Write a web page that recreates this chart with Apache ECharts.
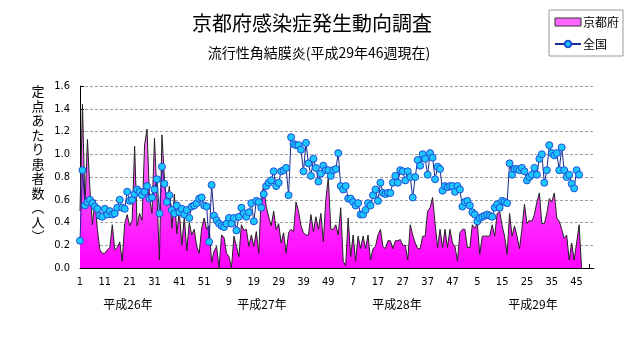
<!DOCTYPE html>
<html><head><meta charset="utf-8">
<script src="https://cdn.jsdelivr.net/npm/echarts@6/dist/echarts.min.js"></script>
<style>html,body{margin:0;padding:0;background:#fff}#c{width:631px;height:347px}</style>
</head><body><div id="c"></div>
<script>
// ---- data ----
const yearLabels = ['平成26年', '平成27年', '平成28年', '平成29年'];
const weeksPerYear = 52;
const seriesNames = ['京都府', '全国'];
const yTickValues = [0, 0.2, 0.4, 0.6, 0.8, 1.0, 1.2, 1.4, 1.6];
// 京都府 (last 0 = blank week after 46週, drawn as zero by the original chart)
const kyoto = [
 0.50,1.44,0.54,1.13,0.69,0.38,0.60,0.34,0.16,0.13,
 0.13,0.16,0.18,0.38,0.16,0.18,0.23,0.06,0.39,0.47,
 0.37,0.42,1.07,0.37,0.48,0.42,1.08,1.22,0.61,0.48,
 1.14,0.63,0.07,1.17,0.78,0.55,0.72,0.35,0.65,0.30,
 0.50,0.20,0.45,0.15,0.40,0.29,0.34,0.19,0.13,0.35,
 0.44,0.34,0.37,0.05,0.15,0.19,0.00,0.29,0.27,0.13,
 0.10,0.00,0.28,0.19,0.10,0.38,0.33,0.34,0.19,0.29,
 0.19,0.32,0.13,0.64,0.72,0.54,0.45,0.37,0.50,0.34,
 0.39,0.22,0.31,0.13,0.31,0.34,0.32,0.58,0.50,0.37,
 0.31,0.29,0.29,0.47,0.32,0.45,0.34,0.48,0.23,0.60,
 0.80,0.34,0.34,0.38,0.29,0.53,0.06,0.02,0.44,0.10,
 0.29,0.06,0.28,0.17,0.28,0.17,0.29,0.07,0.17,0.19,
 0.29,0.34,0.19,0.17,0.24,0.24,0.17,0.24,0.24,0.25,
 0.20,0.20,0.07,0.38,0.29,0.22,0.17,0.17,0.28,0.28,
 0.50,0.53,0.62,0.39,0.18,0.34,0.18,0.34,0.18,0.34,
 0.22,0.19,0.06,0.31,0.34,0.34,0.18,0.18,0.38,0.35,
 0.39,0.12,0.28,0.28,0.28,0.28,0.38,0.28,0.48,0.50,
 0.37,0.28,0.12,0.48,0.28,0.37,0.28,0.17,0.35,0.56,
 0.39,0.42,0.41,0.47,0.58,0.66,0.39,0.39,0.48,0.61,
 0.58,0.66,0.44,0.41,0.34,0.26,0.29,0.07,0.22,0.07,
 0.22,0.38,0
];
// 全国
const zenkoku = [
 0.24,0.86,0.55,0.58,0.60,0.57,0.54,0.52,0.46,0.45,
 0.52,0.47,0.50,0.47,0.48,0.53,0.60,0.53,0.52,0.67,
 0.59,0.60,0.65,0.69,0.67,0.64,0.67,0.72,0.61,0.62,
 0.69,0.78,0.48,0.89,0.74,0.58,0.64,0.51,0.48,0.55,
 0.49,0.52,0.47,0.51,0.44,0.54,0.55,0.57,0.61,0.62,
 0.55,0.54,0.23,0.73,0.46,0.42,0.39,0.37,0.36,0.39,
 0.44,0.39,0.44,0.33,0.45,0.53,0.48,0.45,0.49,0.57,
 0.41,0.59,0.58,0.53,0.65,0.72,0.75,0.77,0.85,0.72,
 0.75,0.85,0.86,0.88,0.64,1.15,1.09,1.08,1.08,1.04,
 0.85,1.10,0.92,0.81,0.96,0.88,0.76,0.83,0.90,0.86,
 0.86,0.81,0.86,0.87,1.01,0.72,0.69,0.72,0.61,0.61,
 0.58,0.55,0.57,0.47,0.47,0.51,0.57,0.55,0.64,0.69,
 0.59,0.75,0.66,0.65,0.66,0.66,0.75,0.81,0.75,0.86,
 0.85,0.77,0.85,0.80,0.62,0.80,0.95,0.90,1.00,0.96,
 0.82,1.01,0.97,0.78,0.89,0.87,0.68,0.72,0.71,0.72,
 0.72,0.67,0.72,0.69,0.54,0.58,0.59,0.55,0.49,0.47,
 0.41,0.44,0.45,0.46,0.47,0.46,0.45,0.53,0.56,0.53,
 0.59,0.58,0.57,0.92,0.82,0.87,0.87,0.86,0.88,0.85,
 0.77,0.80,0.82,0.88,0.82,0.96,1.00,0.75,0.86,1.08,
 1.01,0.99,1.01,0.86,1.06,0.86,0.80,0.82,0.74,0.70,
 0.86,0.82
];

// categories: year index + week number (label shows week number)
const categories = [];
yearLabels.forEach((y, yi) => { for (let w = 1; w <= weeksPerYear; w++) categories.push(yi + '-' + w); });

const CJK = '"Noto Sans CJK JP", sans-serif';
const NUM = '"Liberation Sans Narrow", "DejaVu Sans Condensed", "Liberation Sans", sans-serif';

const chart = echarts.init(document.getElementById('c'), null, {renderer: 'canvas'});
const areaGrad = new echarts.graphic.LinearGradient(0, 86, 0, 268, [
  {offset: 0, color: '#f7a8f7'}, {offset: 0.45, color: '#ff5aff'}, {offset: 1, color: '#ff00ff'}
], true);

const yNameChars = ['定','点','あ','た','り','患','者','数','︵','人','︶'];
const yearLabelX = [128, 262, 397, 533];

chart.setOption({
  animation: false,
  backgroundColor: '#fff',
  grid: {left: 80, top: 86, width: 514, height: 182, containLabel: false},
  xAxis: {
    type: 'category', data: categories, boundaryGap: false,
    axisLine: {show: true, lineStyle: {color: '#000', width: 1}},
    axisTick: {show: true, inside: true, interval: 4, length: 4, lineStyle: {color: '#000'}},
    axisLabel: {interval: 9, color: '#000', fontSize: 11, fontFamily: NUM, margin: 9,
      formatter: v => v.split('-')[1]},
    splitLine: {show: false}
  },
  yAxis: {
    type: 'value', min: 0, max: 1.6, interval: 0.2,
    axisLine: {show: true, lineStyle: {color: '#000', width: 1}},
    axisTick: {show: true, inside: true, length: 4, lineStyle: {color: '#000'}},
    axisLabel: {color: '#000', fontSize: 11, fontFamily: NUM, margin: 10, formatter: v => v.toFixed(1)},
    splitLine: {show: true, lineStyle: {color: '#a0a0a0', type: [3, 2], width: 1}}
  },
  legend: {
    left: 549, top: 10, orient: 'vertical',
    backgroundColor: '#fff', borderColor: '#9a9a9a', borderWidth: 1,
    padding: [6, 4, 6, 5], itemGap: 10, itemWidth: 26, itemHeight: 8,
    textStyle: {fontSize: 12, fontFamily: CJK, color: '#000', padding: [0, 0, 0, -3]},
    data: [
      {name: seriesNames[0], icon: 'rect', itemStyle: {color: '#ff66ff', borderColor: '#333', borderWidth: 1}},
      {name: seriesNames[1]}
    ]
  },
  graphic: [
    {type: 'text', x: 312, y: 23, style: {text: '京都府感染症発生動向調査', font: '20px ' + CJK, fill: '#000', align: 'center', verticalAlign: 'middle'}},
    {type: 'text', x: 319, y: 53, style: {text: '流行性角結膜炎(平成29年46週現在)', font: '14px ' + CJK, fill: '#000', align: 'center', verticalAlign: 'middle'}},
    {type: 'text', x: 38, y: 84, style: {text: yNameChars.join('\n'), font: '13px ' + CJK, lineHeight: 14.5, fill: '#000', align: 'center', verticalAlign: 'top'}}
  ].concat(yearLabels.map((t, i) => ({
    type: 'text', x: yearLabelX[i], y: 304,
    style: {text: t, font: '12px ' + CJK, fill: '#000', align: 'center', verticalAlign: 'middle'}
  }))),
  series: [
    {
      name: seriesNames[0], type: 'line', data: kyoto, showSymbol: false, symbol: 'none',
      lineStyle: {color: '#222', width: 1}, areaStyle: {color: areaGrad, opacity: 1},
      itemStyle: {color: '#ff66ff'}, z: 2
    },
    {
      name: seriesNames[1], type: 'line', data: zenkoku, symbol: 'circle', symbolSize: 7, showAllSymbol: true,
      lineStyle: {color: '#1a2a90', width: 1},
      itemStyle: {color: '#1cc6ff', borderColor: '#1f4fd8', borderWidth: 1}, z: 3
    }
  ]
});
</script>
</body></html>
